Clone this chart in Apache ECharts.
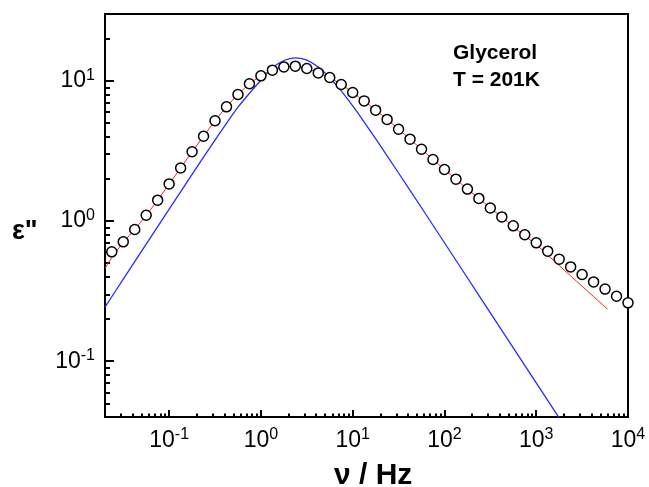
<!DOCTYPE html>
<html>
<head>
<meta charset="utf-8">
<script src="https://cdn.jsdelivr.net/npm/echarts@6/dist/echarts.min.js"></script>
<style>
  html, body { margin: 0; padding: 0; background: #fff; }
  #chart { width: 649px; height: 487px; }
</style>
</head>
<body>
<div id="chart"></div>
<script>
// Measured dielectric loss of glycerol at 201 K (frequency in Hz)
const measFreq = [0.02371, 0.03162, 0.04217, 0.05623, 0.07499, 0.1, 0.1334, 0.1778, 0.2371, 0.3162,
  0.4217, 0.5623, 0.7499, 1, 1.334, 1.778, 2.371, 3.162, 4.217, 5.623,
  7.499, 10, 13.34, 17.78, 23.71, 31.62, 42.17, 56.23, 74.99, 100,
  133.4, 177.8, 237.1, 316.2, 421.7, 562.3, 749.9, 1000, 1334, 1778,
  2371, 3162, 4217, 5623, 7499, 10000];
const measLoss = [0.603, 0.711, 0.871, 1.10, 1.41, 1.84, 2.39, 3.12, 4.03, 5.19,
  6.53, 8.00, 9.53, 10.86, 11.92, 12.58, 12.73, 12.25, 11.40, 10.57,
  9.42, 8.26, 7.20, 6.18, 5.31, 4.52, 3.84, 3.25, 2.75, 2.33,
  1.99, 1.69, 1.45, 1.24, 1.07, 0.924, 0.798, 0.699, 0.610, 0.535,
  0.471, 0.416, 0.368, 0.327, 0.291, 0.261];

// Fitted curve (red)
const fitFreq = [0.02, 0.02371, 0.03162, 0.04217, 0.05623, 0.07499, 0.1, 0.1334, 0.1778, 0.2371,
  0.3162, 0.4217, 0.5623, 0.7499, 1, 1.334, 1.778, 2.371, 3.162, 4.217,
  5.623, 7.499, 10, 13.34, 17.78, 23.71, 31.62, 42.17, 56.23, 74.99,
  100, 133.4, 177.8, 237.1, 316.2, 421.7, 562.3, 749.9, 1000, 1334,
  1778, 2371, 3162, 4217, 6000];
const fitLoss = [0.459, 0.548, 0.705, 0.871, 1.10, 1.41, 1.84, 2.39, 3.12, 4.03,
  5.19, 6.53, 8.00, 9.53, 10.86, 11.92, 12.58, 12.73, 12.25, 11.40,
  10.57, 9.42, 8.26, 7.20, 6.18, 5.31, 4.52, 3.84, 3.25, 2.75,
  2.33, 1.99, 1.69, 1.45, 1.24, 1.066, 0.912, 0.783, 0.679, 0.572,
  0.482, 0.406, 0.343, 0.289, 0.235];

// Single relaxation (Debye) curve (blue)
const debyeFreq = [0.02, 0.03162, 0.05623, 0.1, 0.1778, 0.3162, 0.4217, 0.5623, 0.7499, 1,
  1.334, 1.778, 2.371, 3.162, 4.217, 5.623, 7.499, 10, 13.34, 17.78,
  31.62, 56.23, 100, 177.8, 316.2, 562.3, 1000, 1778, 3162];
const debyeLoss = [0.2435, 0.3848, 0.6841, 1.215, 2.153, 3.783, 4.979, 6.488, 8.15, 10.1,
  12.40, 13.97, 14.6, 14.06, 12.55, 10.54, 8.475, 6.623, 5.088, 3.869,
  2.202, 1.244, 0.700, 0.394, 0.2215, 0.1246, 0.0700, 0.0394, 0.0222];

// Axis ranges
const xRange = [0.02, 10000];
const yRange = [0.04, 30];

const FONT = 'Liberation Sans, Arial, sans-serif';

function pairs(xs, ys) {
  return xs.map((x, i) => [x, ys[i]]);
}

// Label only the decades, written as 10 with a superscript exponent
function decadeLabel(v) {
  const e = Math.round(Math.log10(v));
  if (Math.abs(v / Math.pow(10, e) - 1) > 1e-6) return '';
  return '{b|10}{s|' + e + '}';
}

const labelRich = {
  b: { fontFamily: FONT, fontSize: 23, lineHeight: 27, color: '#000' },
  s: { fontFamily: FONT, fontSize: 16, lineHeight: 16, verticalAlign: 'top', color: '#000' }
};

const chart = echarts.init(document.getElementById('chart'), null, { renderer: 'canvas' });

chart.setOption({
  animation: false,
  backgroundColor: '#fff',
  grid: {
    left: 105, right: 21, top: 14, bottom: 70,
    show: true, borderColor: '#000', borderWidth: 2, backgroundColor: 'transparent'
  },
  xAxis: {
    type: 'log',
    logBase: 10,
    min: xRange[0],
    max: xRange[1],
    axisLine: { lineStyle: { color: '#000', width: 2 } },
    axisTick: { show: true, inside: true, length: 7, lineStyle: { color: '#000', width: 2 } },
    minorTick: { show: true, splitNumber: 9, length: 3.5, lineStyle: { color: '#000', width: 2 } },
    splitLine: { show: false },
    minorSplitLine: { show: false },
    axisLabel: { margin: 10, formatter: decadeLabel, rich: labelRich }
  },
  yAxis: {
    type: 'log',
    logBase: 10,
    min: yRange[0],
    max: yRange[1],
    axisLine: { lineStyle: { color: '#000', width: 2 } },
    axisTick: { show: true, inside: true, length: 9, lineStyle: { color: '#000', width: 2 } },
    minorTick: { show: true, splitNumber: 9, length: 5, lineStyle: { color: '#000', width: 2 } },
    splitLine: { show: false },
    minorSplitLine: { show: false },
    axisLabel: { margin: 10, formatter: decadeLabel, rich: labelRich }
  },
  series: [
    {
      name: 'Debye',
      type: 'line',
      data: pairs(debyeFreq, debyeLoss),
      showSymbol: false,
      smooth: 0.3,
      clip: true,
      lineStyle: { color: '#2a2aff', width: 1.3 },
      z: 2
    },
    {
      name: 'fit',
      type: 'line',
      data: pairs(fitFreq, fitLoss),
      showSymbol: false,
      smooth: 0.3,
      clip: true,
      lineStyle: { color: '#ff1a1a', width: 1 },
      z: 3
    },
    {
      name: 'data',
      type: 'scatter',
      data: pairs(measFreq, measLoss),
      symbol: 'circle',
      symbolSize: 10,
      itemStyle: { color: '#fff', borderColor: '#000', borderWidth: 1.5, opacity: 1 },
      z: 4
    }
  ],
  graphic: [
    {
      type: 'text', left: 453, top: 43,
      style: { text: 'Glycerol', font: 'bold 21px ' + FONT, fill: '#000' }
    },
    {
      type: 'text', left: 453, top: 70,
      style: { text: 'T = 201K', font: 'bold 21px ' + FONT, fill: '#000' }
    },
    {
      type: 'text', left: 12, top: 218,
      style: { text: 'ε"', font: 'bold 27px ' + FONT, fill: '#000' }
    },
    {
      type: 'text', left: 334, top: 461,
      style: { text: 'ν / Hz', font: 'bold 30px ' + FONT, fill: '#000' }
    }
  ]
});
</script>
</body>
</html>
